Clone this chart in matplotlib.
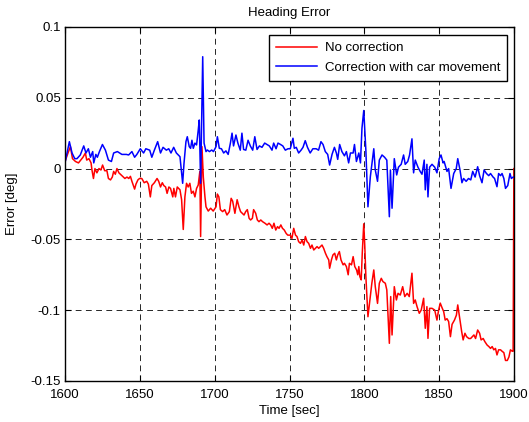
import numpy as np
import matplotlib
matplotlib.use("Agg")
import matplotlib.pyplot as plt

# digitised: Correction with car movement (blue)
t_corr = [1600, 1602.9, 1604.7, 1606.5, 1608, 1610.2, 1612.5, 1614, 1615.6, 1617, 1618.5, 1619.2, 1620.6, 1621.6,
          1623, 1625, 1627, 1629, 1631, 1632.5, 1635, 1636.5, 1638, 1641, 1642.5, 1644.7, 1646.5, 1648, 1650.3,
          1652.5, 1654, 1656.6, 1658, 1659.7, 1661.9, 1663.8, 1665.5, 1667.7, 1669.3, 1670.8, 1672.6, 1674.4,
          1676.8, 1678.6, 1679.5, 1680.8, 1681.7, 1683, 1683.9, 1684.8, 1685.7, 1686.8, 1687.9, 1689, 1689.7,
          1690.6, 1692, 1692.9, 1694.2, 1695.1, 1696.5, 1698, 1699.2, 1700.9, 1701.8, 1703.1, 1704.5, 1706,
          1707.5, 1709, 1710.5, 1711.6, 1712.6, 1714.2, 1715.5, 1717.1, 1718.2, 1719.3, 1720.8, 1722.3, 1723.8,
          1725.4, 1726.8, 1728.3, 1729.9, 1731.6, 1733.4, 1735, 1736.5, 1738.3, 1739.4, 1741, 1742.3, 1744,
          1745.5, 1747.2, 1749, 1750.5, 1752.3, 1753.2, 1754.5, 1756.1, 1757.7, 1759, 1760.5, 1762, 1763.8,
          1765.6, 1767.8, 1769.4, 1771, 1772.4, 1773.9, 1775.5, 1776.8, 1778.4, 1780, 1781.3, 1782.2, 1783.5,
          1785, 1786.7, 1788, 1789.5, 1790.7, 1792.5, 1793.4, 1794.7, 1796.3, 1797.4, 1798.4, 1799.6, 1801,
          1802.4, 1804, 1806.3, 1807.3, 1808.8, 1810, 1811.8, 1813.5, 1815, 1816.7, 1817.4, 1818.5, 1820,
          1821.6, 1822.8, 1824.6, 1826.2, 1827.3, 1829, 1830.2, 1831.8, 1832.9, 1834, 1835.8, 1837.3, 1838.5,
          1840, 1840.7, 1841.8, 1842.5, 1843.6, 1845.2, 1847, 1848.5, 1850, 1851.2, 1852.6, 1853.3, 1855.2,
          1856.3, 1857.9, 1859.7, 1861.4, 1862.4, 1863.9, 1865.2, 1866.3, 1868, 1869.6, 1871.1, 1872.4, 1874,
          1875.7, 1877, 1878.6, 1880, 1881.6, 1883.1, 1884.3, 1886, 1887, 1888.6, 1889.7, 1891, 1892, 1893.2,
          1894.3, 1895.8, 1897.3, 1898.2, 1899.4, 1900]
err_corr = [0.004, 0.019, 0.011, 0.007, 0.007, 0.0096, 0.016, 0.011, 0.014, 0.008, 0.012, 0.004, 0.010, 0.008,
            0.012, 0.017, 0.013, 0.006, 0.005, 0.011, 0.012, 0.011, 0.010, 0.010, 0.0096, 0.012, 0.008, 0.010, 0.014,
            0.011, 0.014, 0.013, 0.008, 0.013, 0.019, 0.011, 0.015, 0.013, 0.014, 0.011, 0.015, 0.011,
            0.0084, -0.0104, 0.0037, 0.019, 0.0225, 0.0155, 0.0143, 0.020, 0.0143, 0.018, 0.0167, 0.027, 0.0343,
            -0.0104, 0.079, 0.018, 0.012, 0.0131, 0.012, 0.0131, 0.012, 0.0155, 0.0225, 0.0143, 0.014, 0.011,
            0.0125, 0.010, 0.018, 0.025, 0.016, 0.0237, 0.018, 0.013, 0.025, 0.0135, 0.013, 0.020, 0.016,
            0.013, 0.0225, 0.0135, 0.016, 0.015, 0.018, 0.017, 0.016, 0.013, 0.018, 0.014, 0.018, 0.017,
            0.016, 0.013, 0.014, 0.014, 0.0214, 0.0143, 0.015, 0.011, 0.013, 0.015, 0.0197, 0.015, 0.011,
            0.014, 0.014, 0.013, 0.019, 0.017, 0.012, 0.010, 0.0025, 0.010, 0.015, 0.011, 0.0065, 0.017,
            0.012, 0.009, 0.012, 0.004, 0.011, 0.011, 0.017, 0.005, 0.011, 0.004, 0.0285, 0.041, 0.013,
            -0.027, -0.0057, 0.014, -0.001, -0.009, 0.006, 0.0096, 0.008, 0.006, -0.034, -0.001, -0.028, 0.007,
            -0.0045, 0.001, 0.003, 0.0096, 0.003, 0.005, 0.0096, 0.021, -0.003, 0.006, 0.001, -0.002, -0.004,
            0.006, -0.015, 0.003, -0.020, 0.001, 0.003, 0.001, -0.003, 0.007, 0.0096, 0.004, 0.005, -0.002,
            0.0, -0.014, -0.0035, 0.0, 0.007, -0.001, -0.010, -0.007, -0.009, -0.007, -0.008, -0.002, -0.006,
            0.0013, -0.005, -0.010, -0.001, -0.0035, -0.005, -0.0035, -0.006, -0.007, -0.0128, -0.0035, -0.005, -0.0035, -0.007,
            -0.014, -0.012, -0.0035, -0.007, -0.006, -0.006]

# digitised: No correction (red)
t_nocorr = [1600, 1602, 1603.6, 1605, 1607, 1609, 1610.5, 1612, 1613.6, 1614.5, 1616, 1617.4, 1618, 1619, 1620,
            1621.3, 1622.7, 1624, 1625.1, 1626.5, 1628, 1629, 1630.4, 1631.6, 1632.5, 1633.6, 1634.7, 1636, 1637,
            1638.5, 1640, 1641.4, 1642.6, 1643.7, 1644.7, 1645.9, 1646.5, 1647.4, 1648.7, 1649.8, 1651.3, 1652.9,
            1654.6, 1655.7, 1657, 1658, 1659.7, 1661.5, 1662.6, 1663.8, 1665, 1666, 1667.2, 1668.2, 1669.4, 1670.5,
            1672, 1672.7, 1673.8, 1675, 1676.8, 1677.9, 1679, 1680.1, 1681.2, 1682.3, 1683.4, 1684.5, 1685.7,
            1686.8, 1687.9, 1689, 1690.1, 1690.6, 1691.5, 1692.4, 1693.5, 1694.2, 1695.7, 1697.3, 1699, 1700.9,
            1701.8, 1702.8, 1703.8, 1705.3, 1706.7, 1708.2, 1709.8, 1711, 1712, 1713.5, 1715, 1716.2, 1717.3,
            1718.4, 1719.6, 1720.7, 1721.8, 1723, 1724, 1725.2, 1726, 1727.4, 1728.5, 1729.6, 1730.8, 1732, 1733.6,
            1735, 1736.3, 1737.4, 1738.5, 1739.6, 1740.8, 1742, 1743, 1744.2, 1745.3, 1746.5, 1747.7, 1748.8,
            1749.9, 1750.5, 1751.6, 1752.8, 1754, 1755, 1756.1, 1757.3, 1758.4, 1759.5, 1760.6, 1761.7, 1762.8,
            1764, 1765, 1766.2, 1767.3, 1768.4, 1769.5, 1770.6, 1771.7, 1772.8, 1774, 1775, 1776.2, 1776.8, 1778,
            1779, 1780.2, 1781.3, 1782.2, 1783.3, 1784.4, 1785.8, 1786.7, 1788, 1789.2, 1790, 1791.4, 1792.5,
            1793.6, 1794.8, 1795.6, 1796.3, 1797, 1797.9, 1798.6, 1799.6, 1800.3, 1801, 1802.4, 1804, 1805,
            1806.3, 1807.3, 1808.8, 1810, 1811.3, 1812.4, 1814, 1815, 1816.7, 1817.6, 1818.5, 1820, 1821.4,
            1822.5, 1824, 1825.6, 1827, 1828.6, 1830, 1831.8, 1832.9, 1834, 1835.2, 1836.7, 1838, 1839.6, 1840.7,
            1841.8, 1842.5, 1843.6, 1845.2, 1847, 1848.5, 1849.6, 1850.7, 1851.8, 1853, 1854, 1855.2, 1856.3,
            1857.5, 1858.6, 1860.2, 1861.5, 1862.4, 1863.9, 1865, 1866, 1867.2, 1868.3, 1869.8, 1871, 1872.1,
            1873.2, 1874.3, 1875.7, 1877, 1878, 1879.4, 1880.5, 1882, 1883.2, 1884.3, 1885.4, 1886.5, 1887.6,
            1888.6, 1889.7, 1891, 1892, 1893.2, 1894.3, 1895.5, 1896.6, 1897.6, 1898.8, 1899.4, 1899.9]
err_nocorr = [0.005, 0.011, 0.0155, 0.007, 0.005, 0.004, 0.006, 0.008, 0.011, 0.006, 0.007, 0.004, -0.001, -0.007, 0.0,
              -0.003, 0.0, -0.001, 0.0025, -0.0015, -0.0015, -0.007, -0.008, -0.006, -0.002, -0.004, 0.0, -0.003, -0.004,
              -0.0055, -0.007, -0.006, -0.007, -0.0055, -0.009, -0.0128, -0.0145, -0.011, -0.008, -0.007, -0.007, -0.010,
              -0.009, -0.011, -0.020, -0.012, -0.010, -0.007, -0.009, -0.013, -0.010, -0.012, -0.013, -0.0175, -0.013, -0.014,
              -0.020, -0.014, -0.020, -0.013, -0.015, -0.022, -0.043, -0.020, -0.0104, -0.013, -0.0104, -0.0175, -0.016,
              -0.020, -0.014, -0.0116, -0.002, -0.048, 0.0155, -0.006, -0.020, -0.027, -0.030, -0.028, -0.030, -0.027,
              -0.018, -0.020, -0.029, -0.0304, -0.029, -0.0328, -0.0304, -0.021, -0.023, -0.0316, -0.022, -0.027, -0.0304,
              -0.0316, -0.0328, -0.0304, -0.029, -0.0351, -0.0363, -0.0351, -0.029, -0.0316, -0.0363, -0.0375, -0.0363, -0.0375, -0.0386,
              -0.0398, -0.0386, -0.0398, -0.0422, -0.0386, -0.0434, -0.041, -0.0422, -0.0398, -0.0422, -0.0434, -0.0457, -0.047,
              -0.047, -0.047, -0.0493, -0.0422, -0.047, -0.048, -0.0516, -0.0528, -0.0505, -0.054, -0.048, -0.0516, -0.0528,
              -0.0563, -0.054, -0.0575, -0.0563, -0.0551, -0.0563, -0.0551, -0.054, -0.0563, -0.0598, -0.0622, -0.0645, -0.0704, -0.0645,
              -0.061, -0.0598, -0.0645, -0.061, -0.0586, -0.0645, -0.068, -0.0669, -0.0692, -0.075, -0.0669, -0.068, -0.0622,
              -0.0692, -0.0716, -0.075, -0.0692, -0.0763, -0.0786, -0.0598, -0.039, -0.055, -0.076, -0.1046, -0.0904, -0.081,
              -0.0716, -0.0834, -0.0952, -0.081, -0.0775, -0.0798, -0.081, -0.0857, -0.1234, -0.0904, -0.1175, -0.0834, -0.0928,
              -0.0881, -0.0893, -0.0834, -0.0904, -0.0881, -0.0904, -0.0739, -0.0952, -0.0928, -0.0975, -0.1022, -0.0999, -0.0916, -0.1128,
              -0.0975, -0.1199, -0.0987, -0.0987, -0.0999, -0.107, -0.100, -0.095, -0.098, -0.101, -0.107, -0.106, -0.108,
              -0.1187, -0.110, -0.107, -0.1035, -0.0963, -0.107, -0.115, -0.121, -0.1163, -0.1187, -0.120, -0.120, -0.1187,
              -0.1175, -0.120, -0.114, -0.1163, -0.121, -0.120, -0.1222, -0.1246, -0.1257, -0.127, -0.1257, -0.128, -0.127,
              -0.1316, -0.128, -0.128, -0.129, -0.130, -0.1355, -0.1355, -0.133, -0.128, -0.129, -0.129, 0.0]

x_ticks = [1600, 1650, 1700, 1750, 1800, 1850, 1900]
y_ticks = [-0.15, -0.1, -0.05, 0, 0.05, 0.1]
y_labels = ["-0.15", "-0.1", "-0.05", "0", "0.05", "0.1"]

plt.rcParams['font.family'] = ['Liberation Sans', 'DejaVu Sans']
plt.rcParams['font.size'] = 9

fig = plt.figure(figsize=(5.29, 4.22), dpi=100)
ax = fig.add_axes([0.1229, 0.0972, 0.8488, 0.8389])

ax.plot(t_nocorr, err_nocorr, color='red', linewidth=1.1, label="No correction")
ax.plot(t_corr, err_corr, color='blue', linewidth=1.1, label="Correction with car movement")

ax.set_xlim(1600, 1900)
ax.set_ylim(-0.15, 0.1)
ax.set_xticks(x_ticks)
ax.set_yticks(y_ticks)
ax.set_yticklabels(y_labels)
ax.grid(True, color='black', linestyle=(0, (6, 4.5)), linewidth=0.7, alpha=0.85)
ax.tick_params(direction='in', top=True, right=True, length=4, width=0.8, labelsize=9.5)
ax.tick_params(axis='x', pad=6)
ax.tick_params(axis='y', pad=3)
for s in ax.spines.values():
    s.set_linewidth(1.0)

ax.set_xlabel("Time [sec]", fontsize=9.5, labelpad=3)
ax.set_ylabel("Error [deg]", fontsize=9.5, labelpad=9)
ax.set_title("Heading Error", fontsize=9.5, pad=8)

leg = ax.legend(loc='upper right', bbox_to_anchor=(0.985, 0.978), borderaxespad=0,
                fancybox=False, framealpha=1, edgecolor='black', handlelength=3.1,
                handletextpad=0.55, borderpad=0.55, labelspacing=0.55, fontsize=9.5)
leg.get_frame().set_linewidth(1.0)

fig.savefig("out.png", dpi=100)
